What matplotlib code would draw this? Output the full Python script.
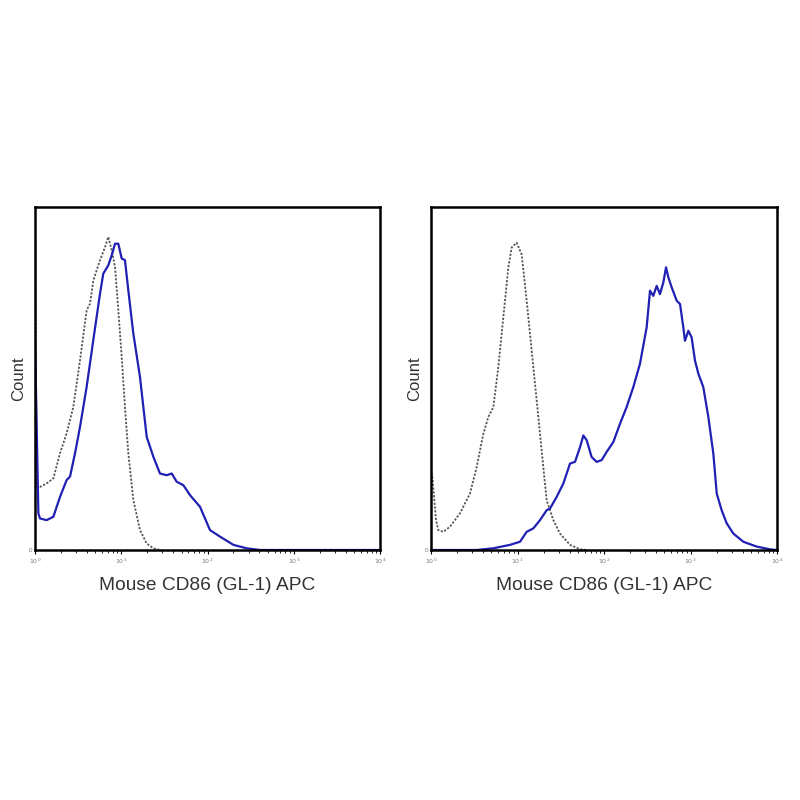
import numpy as np
import matplotlib.pyplot as plt
from matplotlib.ticker import LogLocator, FixedLocator, NullFormatter

plt.rcParams['font.family'] = ['Liberation Sans', 'DejaVu Sans']

# log10 of APC intensity and relative counts (% of panel height)
left_stain_dec = [0.0, 0.039, 0.058, 0.135, 0.213, 0.290, 0.367, 0.406, 0.464, 0.522, 0.599,
                  0.676, 0.754, 0.792, 0.850, 0.889, 0.928, 0.966, 1.005, 1.043, 1.082, 1.140,
                  1.217, 1.295, 1.372, 1.449, 1.527, 1.585, 1.643, 1.720, 1.797, 1.913, 2.029,
                  2.145, 2.300, 2.454, 2.609, 4.0]
left_stain_cnt = [61.2, 10.7, 9.2, 8.7, 9.7, 15.5, 20.4, 21.4, 28.2, 35.9, 47.6,
                  61.2, 74.8, 80.6, 83.0, 85.9, 89.3, 89.3, 85.0, 84.5, 75.7, 63.1,
                  50.5, 33.0, 27.2, 22.3, 21.8, 22.3, 19.9, 18.9, 16.0, 12.6, 5.8,
                  3.9, 1.5, 0.5, 0.0, 0.0]

left_iso_dec = [0.0, 0.019, 0.058, 0.135, 0.213, 0.290, 0.367, 0.444, 0.522, 0.599, 0.638,
                0.676, 0.754, 0.812, 0.850, 0.889, 0.928, 0.966, 1.005, 1.043, 1.082, 1.140,
                1.217, 1.295, 1.372, 1.449]
left_iso_cnt = [97.1, 18.4, 18.4, 19.4, 20.9, 28.2, 34.0, 41.7, 55.3, 69.9, 71.8,
                78.6, 84.5, 88.3, 91.3, 87.4, 82.5, 69.9, 56.3, 41.7, 28.2, 14.6,
                5.8, 1.9, 0.5, 0.0]

right_stain_dec = [0.0, 0.528, 0.721, 0.913, 1.029, 1.106, 1.183, 1.260, 1.337, 1.376, 1.453,
                   1.530, 1.607, 1.665, 1.723, 1.761, 1.800, 1.857, 1.915, 1.973, 2.031,
                   2.108, 2.185, 2.262, 2.339, 2.416, 2.493, 2.532, 2.570, 2.609, 2.647,
                   2.686, 2.717, 2.744, 2.782, 2.840, 2.879, 2.917, 2.936, 2.975, 3.013,
                   3.052, 3.091, 3.148, 3.206, 3.264, 3.303, 3.360, 3.418, 3.495, 3.611,
                   3.765, 3.919, 3.996]
right_stain_cnt = [0.0, 0.0, 0.5, 1.5, 2.4, 5.3, 6.3, 8.7, 11.6, 12.1, 15.5,
                   19.4, 25.2, 25.7, 30.0, 33.4, 32.0, 27.1, 25.7, 26.2, 28.6,
                   31.5, 36.8, 41.7, 47.5, 54.3, 64.9, 75.6, 74.1, 77.0, 74.6,
                   78.0, 82.4, 79.5, 76.6, 72.7, 71.7, 64.9, 61.0, 63.9, 62.0,
                   55.2, 51.4, 47.5, 38.8, 28.1, 16.5, 11.6, 7.8, 4.8, 2.4,
                   1.0, 0.2, 0.0]

right_iso_dec = [0.0, 0.012, 0.058, 0.085, 0.143, 0.220, 0.335, 0.451, 0.528, 0.605, 0.663,
                 0.721, 0.778, 0.836, 0.894, 0.933, 0.990, 1.048, 1.106, 1.164, 1.222,
                 1.279, 1.337, 1.414, 1.491, 1.607, 1.723, 1.800]
right_iso_cnt = [22.3, 22.3, 8.7, 5.8, 5.3, 6.8, 10.7, 16.5, 24.2, 33.9, 38.8,
                 41.7, 53.3, 67.8, 82.4, 88.2, 89.6, 86.2, 72.7, 58.1, 43.6,
                 29.1, 14.5, 8.7, 4.8, 1.5, 0.2, 0.0]

x_label = 'Mouse CD86 (GL-1) APC'
y_label = 'Count'
decades = [0, 1, 2, 3, 4]

blue = '#2020b4'
grey = '#555555'

fig = plt.figure(figsize=(8, 8), dpi=100)
ax_left = fig.add_axes([35 / 800, 250 / 800, 345 / 800, 343 / 800])
ax_right = fig.add_axes([431 / 800, 250 / 800, 346 / 800, 343 / 800])

panels = [
    (ax_left, left_iso_dec, left_iso_cnt, left_stain_dec, left_stain_cnt),
    (ax_right, right_iso_dec, right_iso_cnt, right_stain_dec, right_stain_cnt),
]

for ax, iso_d, iso_c, st_d, st_c in panels:
    ax.plot(10 ** np.array(iso_d), iso_c, color=grey, linestyle=(0, (1.2, 0.9)), linewidth=1.3)
    ax.plot(10 ** np.array(st_d), st_c, color=blue, linewidth=1.6)

    ax.set_xscale('log')
    ax.set_xlim(1, 10 ** 4)
    ax.set_ylim(0, 100)

    ax.xaxis.set_major_locator(FixedLocator([10 ** d for d in decades]))
    ax.set_xticklabels(['$10^{%d}$' % d for d in decades], fontsize=4.5, color='#777777')
    ax.xaxis.set_minor_locator(LogLocator(base=10, subs=np.arange(2, 10), numticks=20))
    ax.xaxis.set_minor_formatter(NullFormatter())
    ax.tick_params(axis='x', which='major', length=3, width=0.8, direction='out', pad=2)
    ax.tick_params(axis='x', which='minor', length=2, width=0.6, direction='out')

    ax.set_yticks([0])
    ax.set_yticklabels(['0'], fontsize=4.5, color='#777777')
    ax.tick_params(axis='y', length=0, pad=2)

    for sp in ax.spines.values():
        sp.set_linewidth(1.8)
        sp.set_color('black')

    ax.set_xlabel(x_label, fontsize=13.8, color='#333333', labelpad=8)
    ax.set_ylabel(y_label, fontsize=12, color='#333333', labelpad=2)

fig.savefig('out.png', dpi=100)
